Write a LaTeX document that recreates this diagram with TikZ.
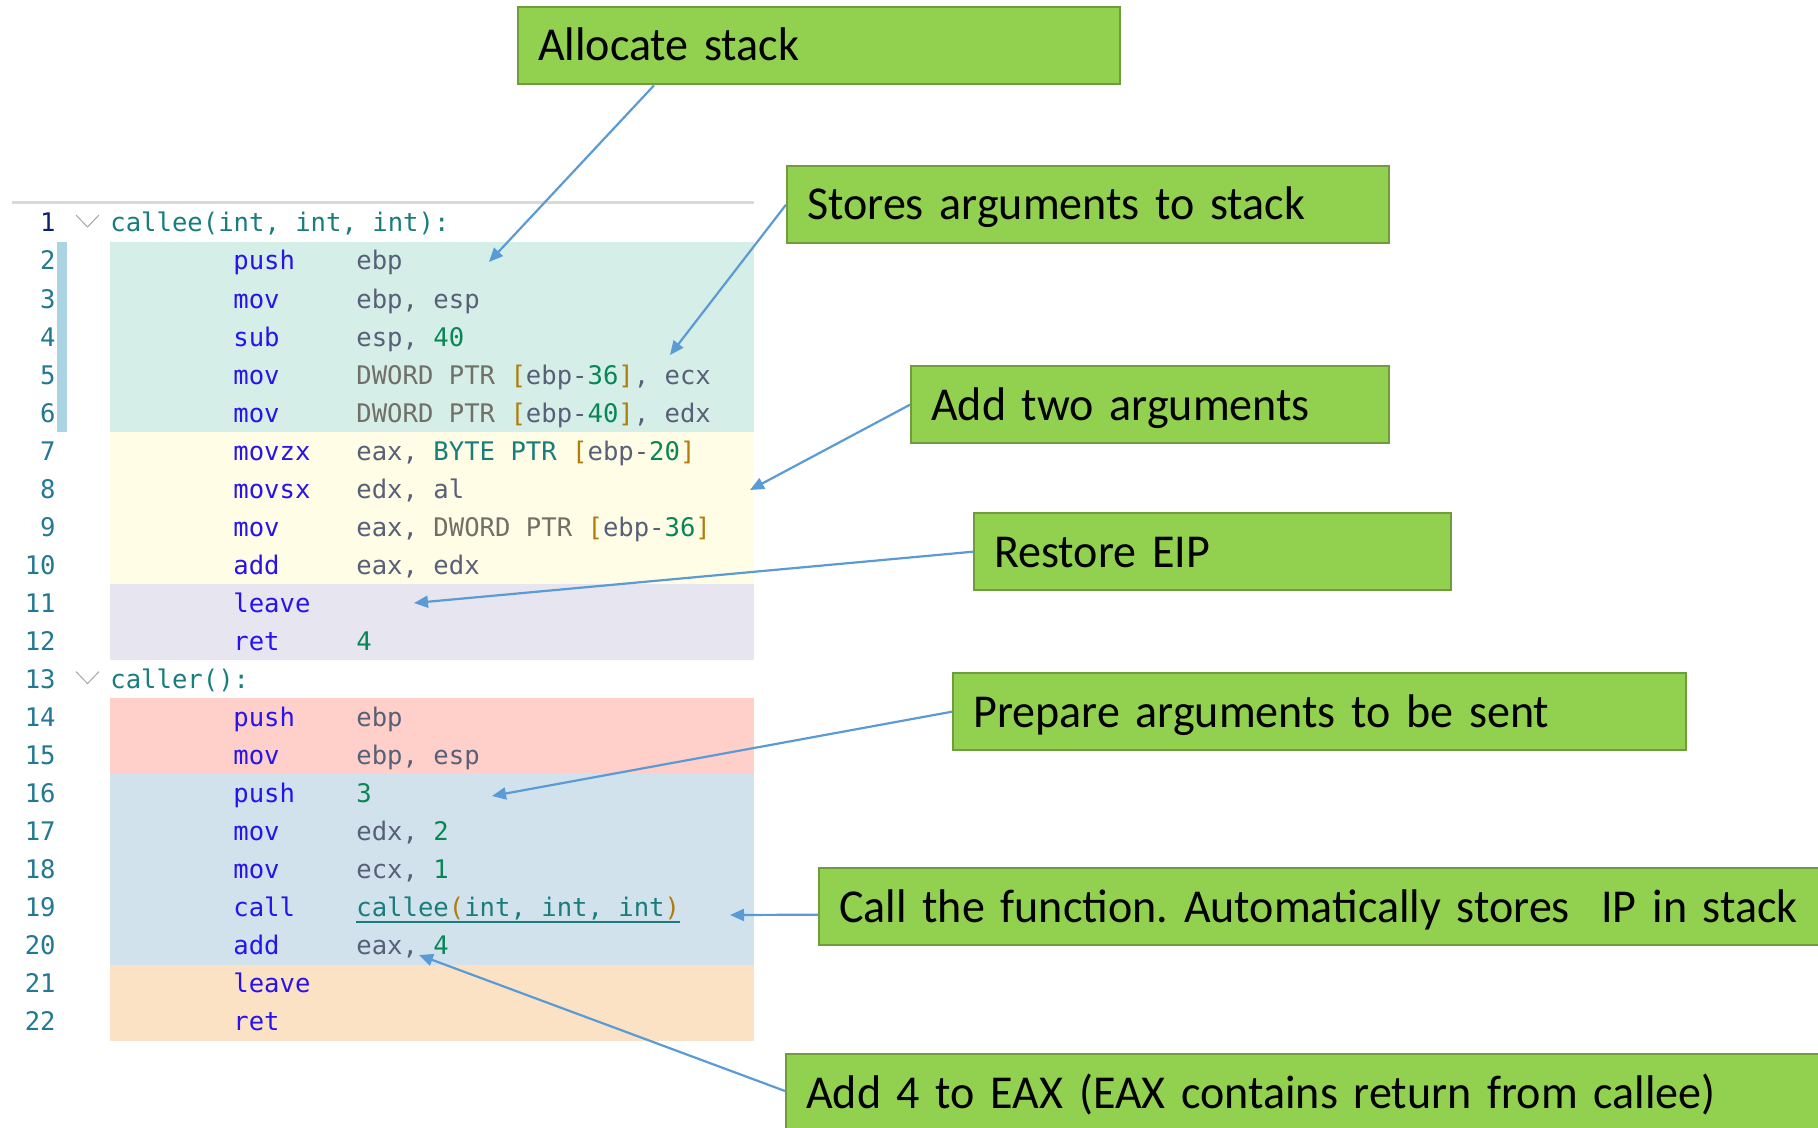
\documentclass[tikz,border=0pt]{standalone}
\usepackage{fontspec}
\setsansfont{Carlito}[WordSpace=0.72, FakeStretch=0.975]
\setmonofont{DejaVu Sans Mono}
\usetikzlibrary{arrows.meta}
\frenchspacing

\definecolor{boxgreen}{RGB}{146,208,80}
\definecolor{boxedge}{RGB}{112,156,60}
\definecolor{arrowblue}{RGB}{91,155,213}
\definecolor{bandteal}{RGB}{214,238,232}
\definecolor{bandyellow}{RGB}{255,253,230}
\definecolor{bandlilac}{RGB}{230,229,240}
\definecolor{bandpink}{RGB}{255,208,202}
\definecolor{bandblue}{RGB}{210,226,236}
\definecolor{bandpeach}{RGB}{252,226,197}
\definecolor{gutter}{RGB}{170,212,226}
\definecolor{linenum}{RGB}{35,120,147}
\definecolor{linecur}{RGB}{11,33,111}
\definecolor{asmop}{RGB}{40,20,235}
\definecolor{asmreg}{RGB}{88,96,120}
\definecolor{asmnum}{RGB}{9,134,88}
\definecolor{asmbrk}{RGB}{176,125,10}
\definecolor{asmptrw}{RGB}{112,112,104}
\definecolor{asmlabel}{RGB}{25,125,125}

\newcommand\codefont{\ttfamily\fontsize{12.8}{15}\selectfont}
\newcommand\asmnum[1]{\textcolor{asmnum}{#1}}
\newcommand\asmbr[1]{\textcolor{asmbrk}{#1}}
\newcommand\asmptr[1]{\textcolor{asmptrw}{#1}}

\tikzset{
    callout/.style={
        draw=boxedge, fill=boxgreen, line width=1.2pt,
        anchor=north west, minimum height=38.5pt,
        text width=#1, align=left,
        inner xsep=10pt, inner ysep=0pt,
        text height=15.3pt, text depth=0pt,
        font=\sffamily\fontsize{23.6}{28}\selectfont
    },
    pointer/.style={
        draw=arrowblue, line width=1.1pt,
        -{Triangle[length=7pt,width=6pt]}
    },
    lineno/.style={anchor=base east, inner sep=0pt, text=linenum, font=\codefont},
    mnemonic/.style={anchor=base west, inner sep=0pt, text=asmop, font=\codefont},
    operand/.style={anchor=base west, inner sep=0pt, text=asmreg, font=\codefont},
    fnlabel/.style={anchor=base west, inner sep=0pt, text=asmlabel, font=\codefont},
}

\begin{document}
\begin{tikzpicture}[x=0.5pt, y=-0.5pt]
    \useasboundingbox
        (0,0) rectangle (1818,1128)
        ;

    % code panel
    \draw [gray!30, line width=1.5pt]
        (12,203) -- (754,203)
        ;

    \foreach \from/\to/\band in {2/6/bandteal, 7/10/bandyellow, 11/12/bandlilac,
                                14/15/bandpink, 16/20/bandblue, 21/22/bandpeach}
        \fill [\band]
            (110,{203.6+(\from-1)*38.05}) rectangle (754,{203.6+\to*38.05})
            ;

    \fill [gutter]
        (57,241.6) rectangle (67,431.9)
        ;

    \node [lineno, text=linecur] (ln1) at (56,231.9) {1};
    \foreach \n in {2,...,22}
        \node [lineno] (ln\n) at (56,{231.9+(\n-1)*38.05}) {\n};

    \foreach \n in {1,13}
        \draw [gray!70, line width=0.5pt]
            (76,{215+(\n-1)*38.05}) -- (87.5,{227+(\n-1)*38.05}) -- (99,{215+(\n-1)*38.05})
            ;

    \node [fnlabel] (lbl1) at (110,231.9) {callee(int, int, int):};
    \node [fnlabel] (lbl13) at (110,{231.9+12*38.05}) {caller():};

    \foreach \n/\op/\arg in {
        2/push/ebp,
        3/mov/{ebp, esp},
        4/sub/{esp, \asmnum{40}},
        5/mov/{\asmptr{DWORD PTR} \asmbr{[}ebp-\asmnum{36}\asmbr{]}, ecx},
        6/mov/{\asmptr{DWORD PTR} \asmbr{[}ebp-\asmnum{40}\asmbr{]}, edx},
        7/movzx/{eax, \textcolor{asmlabel}{BYTE PTR} \asmbr{[}ebp-\asmnum{20}\asmbr{]}},
        8/movsx/{edx, al},
        9/mov/{eax, \asmptr{DWORD PTR} \asmbr{[}ebp-\asmnum{36}\asmbr{]}},
        10/add/{eax, edx},
        11/leave/{},
        12/ret/{\asmnum{4}},
        14/push/ebp,
        15/mov/{ebp, esp},
        16/push/{\asmnum{3}},
        17/mov/{edx, \asmnum{2}},
        18/mov/{ecx, \asmnum{1}},
        19/call/{\textcolor{asmlabel}{callee\asmbr{(}int, int, int\asmbr{)}}},
        20/add/{eax, \asmnum{4}},
        21/leave/{},
        22/ret/{}%
    } {
        \node [mnemonic] (op\n) at (233,{231.9+(\n-1)*38.05}) {\op};
        \node [operand] (arg\n) at (356,{231.9+(\n-1)*38.05}) {\arg};
    }

    \draw [asmlabel, line width=0.6pt]
        ([yshift=-2.6pt]arg19.base west) -- ([yshift=-2.6pt]arg19.base east)
        ;

    % callouts
    \node [callout=281pt] (alloc) at (517,6) {Allocate stack};
    \node [callout=281pt] (stores) at (786,165) {Stores arguments to stack};
    \node [callout=219pt] (addtwo) at (910,365) {Add two arguments};
    \node [callout=218.5pt] (restore) at (973,512) {Restore EIP};
    \node [callout=346.5pt] (prepare) at (952,672) {Prepare arguments to be sent};
    \node [callout=520pt] (callfn) at (818,867) {Call the function. Automatically stores\ \ IP in stack};
    \node [callout=520pt] (addfour) at (785,1053) {Add 4 to EAX (EAX contains return from callee)};

    \coordinate (tgtalloc) at (489,262);
    \coordinate (tgtstores) at (670,355);
    \coordinate (tgtaddtwo) at (750,490);
    \coordinate (tgtrestore) at (414,603);
    \coordinate (tgtprepare) at (492,796);
    \coordinate (tgtcall) at (730,915);
    \coordinate (tgtaddfour) at (419,955);

    \draw [pointer]
        ([xshift=68.5pt]alloc.south west) -- (tgtalloc)
        ;
    \draw [pointer]
        (stores.west) -- (tgtstores)
        ;
    \draw [pointer]
        (addtwo.west) -- (tgtaddtwo)
        ;
    \draw [pointer]
        (restore.west) -- (tgtrestore)
        ;
    \draw [pointer]
        (prepare.west) -- (tgtprepare)
        ;
    \draw [pointer]
        ([yshift=-4pt]callfn.west) -- (tgtcall)
        ;
    \draw [pointer]
        ([yshift=-19pt]addfour.north west) -- (tgtaddfour)
        ;
\end{tikzpicture}
\end{document}
